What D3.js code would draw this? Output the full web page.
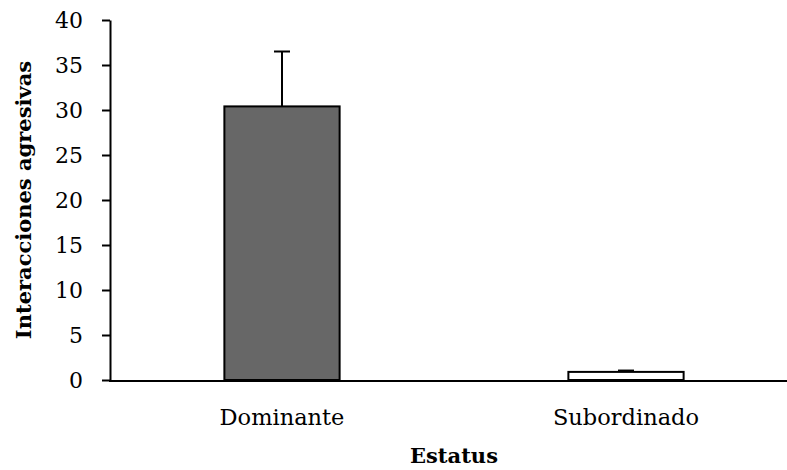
<!DOCTYPE html>
<html><head><meta charset="utf-8">
<script src="https://cdn.jsdelivr.net/npm/d3@7"></script>
<style>body{margin:0;background:#fff}svg{display:block}</style>
</head><body>
<svg id="c" width="787" height="470"></svg>
<script>
const categories = ["Dominante", "Subordinado"];
const values = [30.4, 0.9];
const errors = [6.1, 0.15];
const fills = ["#676767", "#ffffff"];
const yTicks = [0, 5, 10, 15, 20, 25, 30, 35, 40];
const yTitle = "Interacciones agresivas";
const xTitle = "Estatus";

const svg = d3.select("#c");
const font = "'DejaVu Serif', serif";
const x = d3.scaleBand().domain(categories).range([110, 798]);
const y = d3.scaleLinear().domain([0, 40]).range([380, 20]);
const bw = x.bandwidth() * 0.335;

// bars
svg.selectAll("rect.bar").data(categories).enter().append("rect")
  .attr("x", d => x(d) + x.bandwidth()/2 - bw/2)
  .attr("y", (d,i) => y(values[i]))
  .attr("width", bw)
  .attr("height", (d,i) => y(0) - y(values[i]))
  .attr("fill", (d,i) => fills[i])
  .attr("stroke", "#000").attr("stroke-width", 2);

// error bars
const eb = svg.append("g").attr("stroke", "#000").attr("stroke-width", 2);
categories.forEach((d,i) => {
  const cx = x(d) + x.bandwidth()/2;
  eb.append("line").attr("x1", cx).attr("x2", cx).attr("y1", y(values[i])).attr("y2", y(values[i]+errors[i]));
  eb.append("line").attr("x1", cx-8).attr("x2", cx+8).attr("y1", y(values[i]+errors[i])).attr("y2", y(values[i]+errors[i]));
});

// y axis
const ya = svg.append("g").attr("transform", "translate(110,0)")
  .call(d3.axisLeft(y).tickValues(yTicks).tickSize(8).tickPadding(19).tickSizeOuter(0));
ya.select(".domain").attr("stroke-width", 2);
ya.selectAll(".tick line").attr("stroke-width", 2);
ya.selectAll("text").attr("font-family", font).attr("font-size", 22).attr("fill", "#000");

// x axis
svg.append("line").attr("x1", 109).attr("x2", 787).attr("y1", 381).attr("y2", 381)
  .attr("stroke", "#000").attr("stroke-width", 2);
svg.selectAll("text.cat").data(categories).enter().append("text")
  .attr("x", d => x(d) + x.bandwidth()/2).attr("y", 425)
  .attr("text-anchor", "middle").attr("font-family", font).attr("font-size", 22.5).text(d => d);

svg.append("text").attr("x", 454).attr("y", 463).attr("text-anchor", "middle")
  .attr("font-family", font).attr("font-size", 21).attr("font-weight", "bold").text(xTitle);
svg.append("text").attr("transform", "translate(31,200) rotate(-90)").attr("text-anchor", "middle")
  .attr("font-family", font).attr("font-size", 21).attr("font-weight", "bold").text(yTitle);
</script>
</body></html>
